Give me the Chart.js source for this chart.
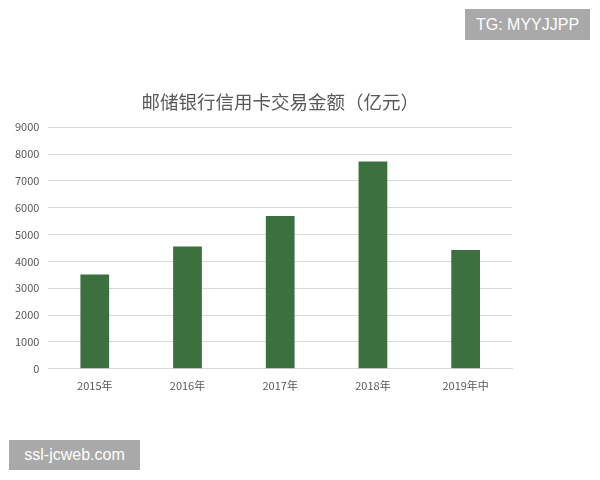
<!DOCTYPE html>
<html>
<head>
<meta charset="utf-8">
<script src="https://cdn.jsdelivr.net/npm/chart.js@4.4.1/dist/chart.umd.min.js"></script>
<style>
  body { margin: 0; background: #fff; }
  #wrap { position: relative; width: 600px; height: 480px; }
  .mark { position: absolute; background: #a9a9a9; color: #fff;
          font-family: "Liberation Sans", Arial, sans-serif; font-size: 16px;
          line-height: 31px; text-align: center; }
</style>
</head>
<body>
<div id="wrap">
  <canvas id="myCardChart" width="600" height="480"></canvas>
  <div class="mark" style="left:465px; top:9px; width:125px; height:31px;">TG: MYYJJPP</div>
  <div class="mark" style="left:9px; top:440px; width:131px; height:30px; line-height:30px;">ssl-jcweb.com</div>
</div>
<script>
var xLabels = ["2015年", "2016年", "2017年", "2018年", "2019年中"];
var yValues = [3510, 4560, 5690, 7720, 4430];
var yTicks = [0, 1000, 2000, 3000, 4000, 5000, 6000, 7000, 8000, 9000];

var cjk = '"Noto Sans CJK SC", "Liberation Sans", sans-serif';

new Chart("myCardChart", {
    type: "bar",
    data: {
        labels: xLabels,
        datasets: [{
            backgroundColor: "#3d703f",
            data: yValues,
            barPercentage: 0.62,
            categoryPercentage: 0.5
        }]
    },
    options: {
        responsive: false,
        animation: false,
        layout: {
            padding: { left: 6, right: 88, top: 91, bottom: 86 }
        },
        plugins: {
            legend: { display: false },
            tooltip: { enabled: false },
            title: {
                display: true,
                fullSize: false,
                text: "邮储银行信用卡交易金额（亿元）",
                color: "#595959",
                font: { family: cjk, size: 18.5, weight: "normal" },
                padding: { top: 0, bottom: 14 }
            }
        },
        scales: {
            x: {
                grid: { display: false },
                border: { display: true, color: "#d9d9d9" },
                ticks: {
                    color: "#595959",
                    font: { family: cjk, size: 11 },
                    padding: 2
                }
            },
            y: {
                min: 0,
                max: 9000,
                afterBuildTicks: function (axis) {
                    axis.ticks = yTicks.map(function (v) { return { value: v }; });
                },
                grid: { color: "#d9d9d9", drawTicks: false },
                border: { display: false },
                ticks: {
                    color: "#595959",
                    font: { family: cjk, size: 11 },
                    padding: 9,
                    callback: function (v) { return String(v); }
                }
            }
        }
    }
});
</script>
</body>
</html>
